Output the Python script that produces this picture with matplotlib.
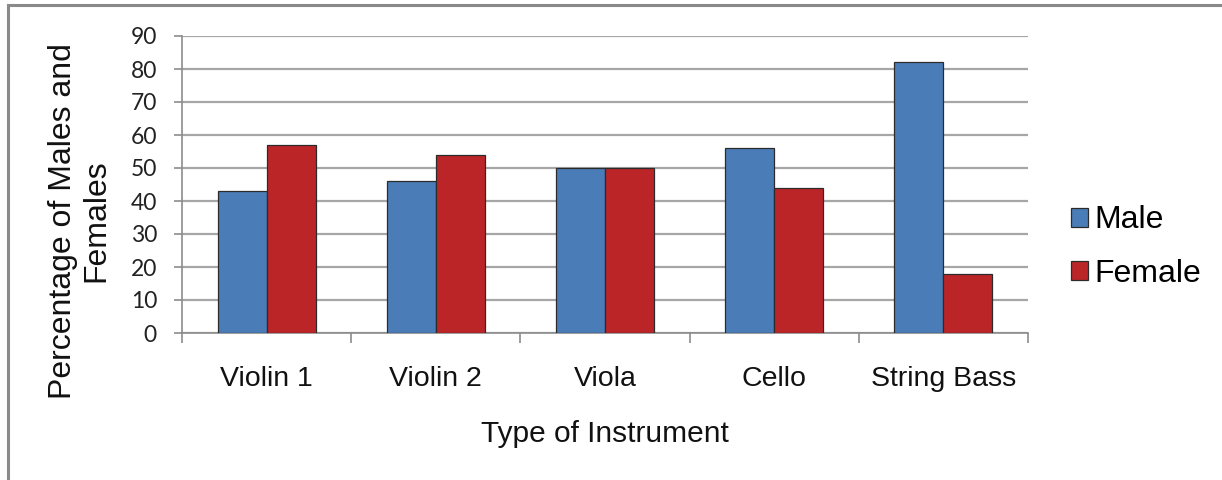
import matplotlib
matplotlib.use("Agg")
import matplotlib.pyplot as plt
import numpy as np
from matplotlib.patches import Rectangle

categories = ["Violin 1", "Violin 2", "Viola", "Cello", "String Bass"]
male = [43, 46, 50, 56, 82]
female = [57, 54, 50, 44, 18]
yticks = [0, 10, 20, 30, 40, 50, 60, 70, 80, 90]

BLUE = "#4a7db8"
RED = "#bc2528"
GRID = "#a6a6a6"
AXC = "#8c8c8c"

fig = plt.figure(figsize=(12.22, 4.8), dpi=100)
W, H = 1222, 480
ax = fig.add_axes([182 / W, 1 - 333 / H, (1028 - 182) / W, (333 - 36) / H])

x = np.arange(len(categories))
bw = 0.29
ax.bar(x - bw / 2, male, bw, color=BLUE, edgecolor="#2b2b2b", linewidth=0.9, label="Male", zorder=3)
ax.bar(x + bw / 2, female, bw, color=RED, edgecolor="#2b2b2b", linewidth=0.9, label="Female", zorder=3)

ax.set_xlim(-0.5, len(categories) - 0.5)
ax.set_ylim(0, 90)
ax.set_yticks(yticks)
ax.set_yticklabels([str(v) for v in yticks], fontfamily="Lato", fontsize=16.5, color="#222222")
ax.yaxis.grid(True, color=GRID, linewidth=1.6, zorder=0)
ax.set_axisbelow(True)

ax.set_xticks(np.arange(-0.5, len(categories), 1.0))
ax.set_xticklabels([])
ax.set_xticks(x, minor=True)
ax.set_xticklabels(categories, minor=True, fontfamily="Liberation Sans", fontsize=20.5, color="#111111")
ax.tick_params(axis="x", which="major", length=7, width=1.2, color=AXC, direction="out")
ax.tick_params(axis="x", which="minor", length=0, pad=24)
ax.tick_params(axis="y", length=6, width=1.2, color=AXC, direction="out", pad=12)

for s in ["top", "right"]:
    ax.spines[s].set_visible(False)
for s in ["left", "bottom"]:
    ax.spines[s].set_color(AXC)
    ax.spines[s].set_linewidth(1.2)

fig.text(605 / W, 1 - 434 / H, "Type of Instrument", ha="center", va="center",
         fontfamily="Liberation Sans", fontsize=21.5, color="#111111")
fig.text(80 / W, 1 - 221 / H, "Percentage of Males and\nFemales", ha="center", va="center",
         rotation=90, fontfamily="Liberation Sans", fontsize=23, color="#111111",
         linespacing=1.15)

leg = fig.legend(loc="center left", bbox_to_anchor=(1058 / W, 1 - 247 / H), frameon=False,
                 prop={"family": "Liberation Sans", "size": 23}, handlelength=0.55,
                 handleheight=0.55, handletextpad=0.2, labelspacing=0.72, borderaxespad=0)

# outer chart border (top and left visible)
fig.patches.append(Rectangle((8 / W, -0.1), 1.2, (1 - 5 / H) + 0.1, transform=fig.transFigure,
                             fill=False, edgecolor="#8a8a8a", linewidth=2.2))

fig.savefig("out.png", dpi=100, facecolor="white")
